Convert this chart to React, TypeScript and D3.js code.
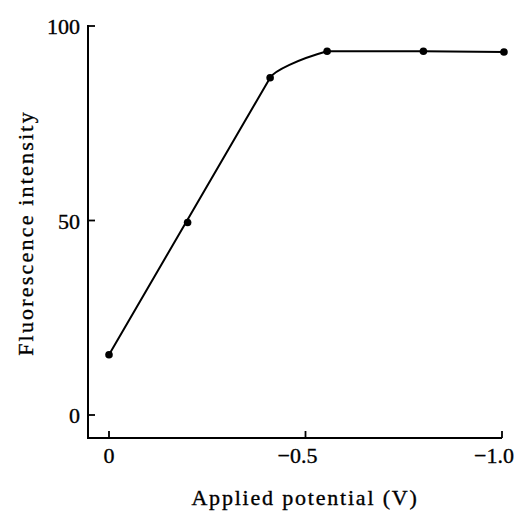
import React from "react";
import * as d3 from "d3";

const potentials = [0, -0.2, -0.41, -0.555, -0.8, -1.005];
const intensities = [15.5, 49.5, 86.7, 93.5, 93.5, 93.3];
const xTicks = [0, -0.5, -1.0];
const xTickLabels = ["0", "\u22120.5", "\u22121.0"];
const yTicks = [0, 50, 100];
const yTickLabels = ["0", "50", "100"];
const xTitle = "Applied potential (V)";
const yTitle = "Fluorescence intensity";

const W = 515;
const H = 513;
const FONT = "'Liberation Serif', 'DejaVu Serif', serif";

export default function App() {
  const x = d3.scaleLinear().domain([0, -1.0]).range([109, 502]);
  const y = d3.scaleLinear().domain([0, 100]).range([415, 26]);
  const axisX = 88;
  const axisY = 438;
  const pts: [number, number][] = potentials.map((p, i) => [x(p), y(intensities[i])]);

  // Fitted straight line from first point to the knee, smooth knee, then flat plateau
  const [p0, , p2, p3, p4, p5] = pts;
  const path = d3.path();
  path.moveTo(p0[0], p0[1]);
  path.lineTo(p2[0], p2[1]);
  const c1x = p2[0] + 0.025 * (p2[0] - p0[0]);
  const c1y = p2[1] + 0.025 * (p2[1] - p0[1]);
  const c2x = p3[0] - 0.5 * (p3[0] - p2[0]);
  const c2y = p3[1] - 0.3 * (p3[1] - p2[1]);
  path.bezierCurveTo(c1x, c1y, c2x, c2y, p3[0], p3[1]);
  path.lineTo(p4[0], p4[1]);
  path.lineTo(p5[0], p5[1]);

  const textProps = {
    fontFamily: FONT,
    fill: "#000",
    stroke: "#000",
    strokeWidth: 0.35,
  };

  return (
    <svg
      width={W}
      height={H}
      style={{ position: "absolute", left: 0, top: 0, background: "#fff" }}
    >
      <rect x={0} y={0} width={W} height={H} fill="#fff" />
      {/* axes */}
      <line x1={axisX} y1={y(100) - 1} x2={axisX} y2={axisY} stroke="#000" strokeWidth={2} />
      <line x1={axisX - 1} y1={axisY} x2={x(-1.0)} y2={axisY} stroke="#000" strokeWidth={2} />
      {yTicks.map((t, i) => (
        <g key={"y" + i}>
          <line x1={axisX} x2={axisX + 7} y1={y(t)} y2={y(t)} stroke="#000" strokeWidth={1.8} />
          <text x={axisX - 8} y={y(t) + 8} textAnchor="end" fontSize={22} {...textProps}>
            {yTickLabels[i]}
          </text>
        </g>
      ))}
      {xTicks.map((t, i) => (
        <g key={"x" + i}>
          <line x1={x(t)} x2={x(t)} y1={axisY} y2={axisY - 7} stroke="#000" strokeWidth={1.8} />
          <text
            x={i === 0 ? x(t) : x(t) + 12}
            y={axisY + 25}
            textAnchor={i === 0 ? "middle" : "end"}
            fontSize={22}
            {...textProps}
          >
            {xTickLabels[i]}
          </text>
        </g>
      ))}
      {/* titles */}
      <text x={305} y={505} textAnchor="middle" fontSize={22} letterSpacing={1.8} {...textProps}>
        {xTitle}
      </text>
      <text
        transform={`translate(33, 233) rotate(-90)`}
        textAnchor="middle"
        fontSize={22}
        letterSpacing={2.2}
        {...textProps}
      >
        {yTitle}
      </text>
      {/* data */}
      <path d={path.toString()} fill="none" stroke="#000" strokeWidth={2} strokeLinejoin="round" />
      {pts.map((p, i) => (
        <circle key={"p" + i} cx={p[0]} cy={p[1]} r={3.8} fill="#000" />
      ))}
    </svg>
  );
}
